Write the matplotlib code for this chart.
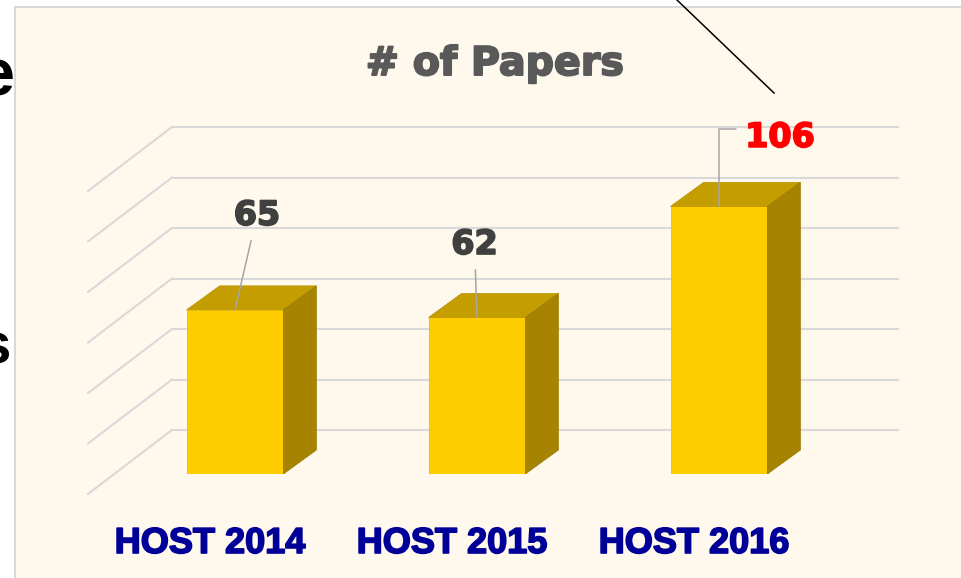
import matplotlib
matplotlib.use('Agg')
import matplotlib.pyplot as plt
import matplotlib.patheffects as pe
from matplotlib.patches import Polygon, Rectangle
from matplotlib.lines import Line2D

W, H = 961, 578

# data
categories = ['HOST 2014', 'HOST 2015', 'HOST 2016']
papers = [65, 62, 106]
label_colors = ['#404040', '#404040', '#FF0000']
grid_values = [0, 20, 40, 60, 80, 100, 120]

FRONT = '#FFCC00'
TOP = '#C49D00'
SIDE = '#A68300'
GRID = '#D9D9D9'
CREAM = '#FEF8ED'

fig = plt.figure(figsize=(W / 100, H / 100), dpi=100)
fig.patch.set_facecolor('white')

# slide panel behind the chart
panel = Rectangle((15 / W, -0.02), 1.0, 1.02 - 7 / H, transform=fig.transFigure,
                  facecolor=CREAM, edgecolor=GRID, lw=1.5, zorder=-5)
fig.add_artist(panel)

# axes = plane of the bars' front faces
ax = fig.add_axes([114 / W, 1 - 474 / H, 726 / W, 303 / H])
ax.set_xlim(-0.5, 2.5)
ax.set_ylim(0, 120)
ax.axis('off')

# pixels per data unit, used for the 3d depth offsets
p0 = ax.transData.transform((0, 0))
p1 = ax.transData.transform((1, 1))
sx, sy = p1 - p0

# back wall and left wall gridlines
bx, by = 58 / sx, 44 / sy
fx, fy = -26 / sx, -20 / sy
for v in grid_values:
    ax.plot([-0.5 + bx, 2.5 + bx], [v + by, v + by], color=GRID, lw=1.5, zorder=1, clip_on=False)
    ax.plot([-0.5 + fx, -0.5 + bx], [v + fy, v + by], color=GRID, lw=1.5, zorder=1, clip_on=False)

# 3d bars
bar_w = 0.4
xs = range(len(papers))
ax.bar(xs, papers, width=bar_w, color=FRONT, edgecolor='#EDBF00', lw=0.6, zorder=3)
dx, dy = 33 / sx, 24 / sy
for i, v in enumerate(papers):
    x0, x1 = i - bar_w / 2, i + bar_w / 2
    ax.add_patch(Polygon([(x0, v), (x1, v), (x1 + dx, v + dy), (x0 + dx, v + dy)],
                         closed=True, facecolor=TOP, edgecolor='#B89300', lw=0.5, zorder=3))
    ax.add_patch(Polygon([(x1, 0), (x1 + dx, dy), (x1 + dx, v + dy), (x1, v)],
                         closed=True, facecolor=SIDE, edgecolor='#9A7A00', lw=0.5, zorder=3))

# value labels with leader lines
label_offsets = [(22, 85), (-2.5, 63.5), (61, 59.5)]
for i, v in enumerate(papers):
    arrow = dict(arrowstyle='-', color='#A6A6A6', lw=1.1, shrinkA=4.3, shrinkB=0)
    if i == 2:
        arrow['connectionstyle'] = 'angle,angleA=0,angleB=90,rad=0'
        arrow['relpos'] = (0, 0.75)
    ax.annotate(str(v), xy=(i, v), xytext=label_offsets[i], textcoords='offset pixels',
                ha='center', va='baseline', fontsize=24, fontweight='bold',
                family='DejaVu Sans', color=label_colors[i], arrowprops=arrow,
                path_effects=[pe.withStroke(linewidth=1.3, foreground=label_colors[i])],
                zorder=5, annotation_clip=False)

# category labels
for i, c in enumerate(categories):
    ax.annotate(c, xy=(i, 0), xytext=(-25, -79), textcoords='offset pixels',
                ha='center', va='baseline', fontsize=26, fontweight='bold',
                family='Liberation Sans', color='#000099',
                path_effects=[pe.withStroke(linewidth=1.2, foreground='#000099')],
                annotation_clip=False)

# title
fig.text(495 / W, 1 - 75 / H, '# of Papers', ha='center', va='baseline', fontsize=28.5,
         fontweight='bold', family='DejaVu Sans', color='#595959',
         path_effects=[pe.withStroke(linewidth=1.4, foreground='#595959')])

# bits of slide text cut off at the left
fig.text(14 / W, 1 - 96 / H, 'e', ha='right', va='baseline', fontsize=48,
         fontweight='bold', family='Liberation Sans', color='black')
fig.text(11 / W, 1 - 363 / H, 's', ha='right', va='baseline', fontsize=42,
         fontweight='bold', family='Liberation Sans', color='black')

# slide arrow line
fig.add_artist(Line2D([677 / W, 774 / W], [1.0, 1 - 93 / H], transform=fig.transFigure,
                      color='black', lw=1.1, zorder=10))

fig.savefig('out.png', dpi=100, facecolor=fig.get_facecolor())
